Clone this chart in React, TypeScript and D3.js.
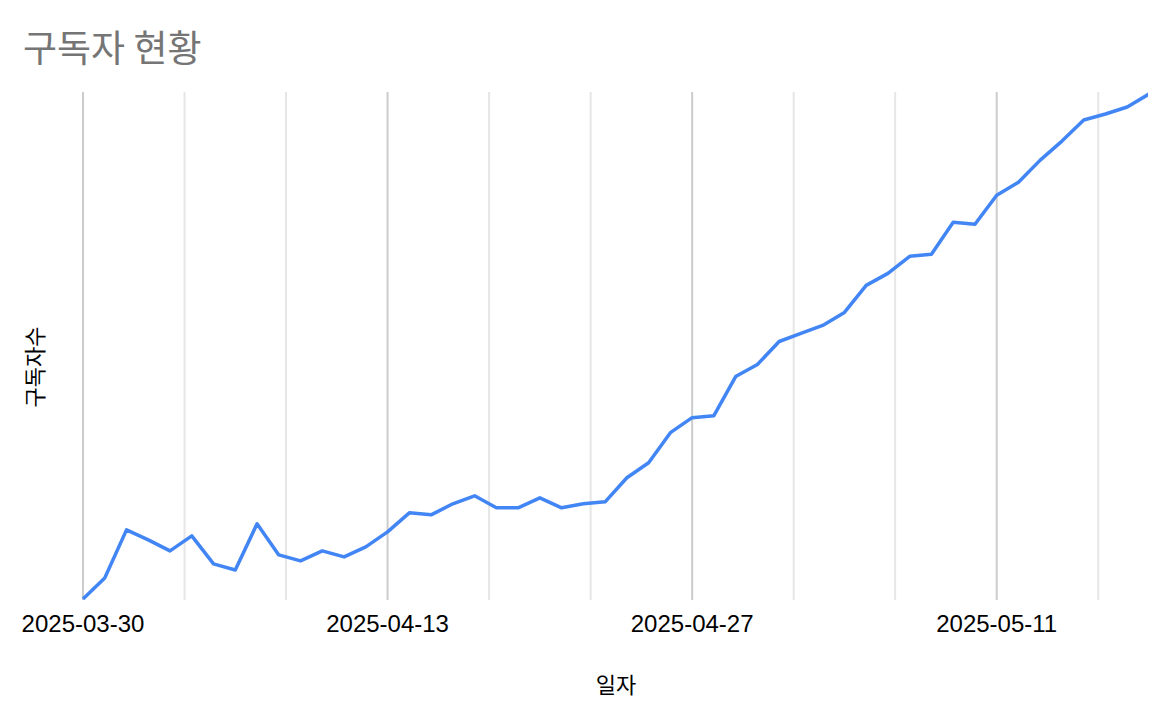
import React from "react";
import * as d3 from "d3";

const startDate = "2025-03-30";
const subscribers = [
  0, 21, 69, 59, 48, 63, 35, 29, 75, 44,
  38, 48, 42, 52, 67, 86, 84, 95, 103, 91,
  91, 101, 91, 95, 97, 121, 136, 166, 181, 183,
  222, 234, 257, 265, 273, 286, 313, 325, 342, 344,
  376, 374, 403, 416, 438, 457, 478, 484, 491, 504,
];
const tickLabels = ["2025-03-30", "2025-04-13", "2025-04-27", "2025-05-11"];
const title = "구독자 현황";
const xTitle = "일자";
const yTitle = "구독자수";

export default function App() {
  const W = 1176, H = 722;
  const left = 83, right = 1149, top = 94, bottom = 599;
  const parse = d3.timeParse("%Y-%m-%d");
  const start = parse(startDate)!;
  const data = subscribers.map((v, i) => ({ d: d3.timeDay.offset(start, i), v }));
  const x = d3.scaleTime().domain([start, data[data.length - 1].d]).range([left, right]);
  const y = d3.scaleLinear().domain([d3.min(subscribers)!, d3.max(subscribers)!]).range([bottom, top]);
  const line = d3.line<{ d: Date; v: number }>().x((p) => x(p.d)).y((p) => y(p.v));

  const majors = tickLabels.map((t) => parse(t)!);
  const step = 14 / 3;
  const grid: { t: number; major: boolean }[] = [];
  for (let k = 0; k * step <= 49.5; k++) {
    grid.push({ t: k * step, major: k % 3 === 0 });
  }
  const dayX = (n: number) => x(new Date(start.getTime() + n * 86400000));

  return (
    <svg width={W} height={H} style={{ display: "block", position: "absolute", left: 0, top: 0 }}>
      <defs>
        <clipPath id="plotclip">
          <rect x={0} y={0} width={1148} height={H} />
        </clipPath>
      </defs>
      <rect width={W} height={H} fill="#fff" />
      <text x={23} y={62} fontFamily="'Noto Sans CJK KR'" fontSize={37} fill="#757575">{title}</text>
      {grid.map((g, i) => (
        <line key={i} x1={dayX(g.t)} x2={dayX(g.t)} y1={92} y2={600}
          stroke={g.major ? "#cccccc" : "#e6e6e6"} strokeWidth={2} />
      ))}
      <path d={line(data)!} fill="none" stroke="#4285f4" strokeWidth={3.5} strokeLinejoin="round" clipPath="url(#plotclip)" />
      {majors.map((m, i) => (
        <text key={i} x={x(m)} y={632} textAnchor="middle" fontFamily="'Liberation Sans', Arial" fontSize={24} fill="#000">
          {tickLabels[i]}
        </text>
      ))}
      <text x={616} y={693} textAnchor="middle" fontFamily="'Noto Sans CJK KR'" fontSize={22} fill="#000">{xTitle}</text>
      <text transform={`translate(43,367) rotate(-90)`} textAnchor="middle" fontFamily="'Noto Sans CJK KR'" fontSize={22} fill="#000">{yTitle}</text>
    </svg>
  );
}
